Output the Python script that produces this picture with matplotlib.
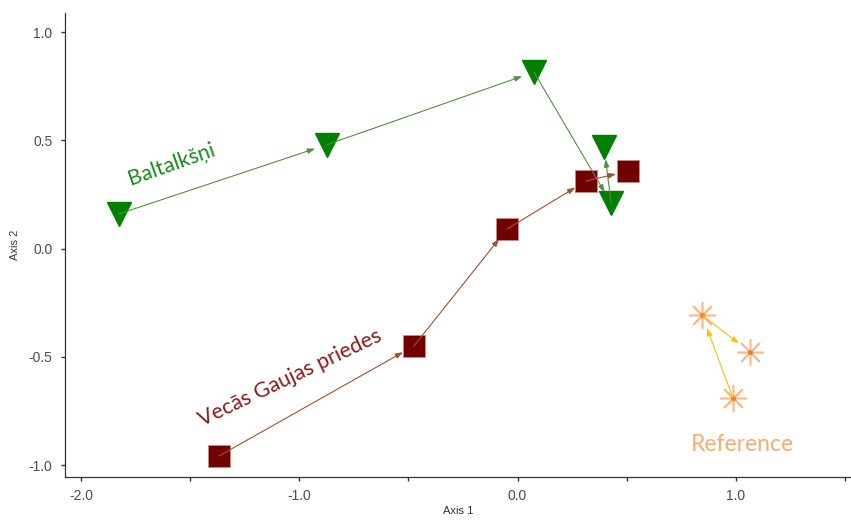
import matplotlib.pyplot as plt
from matplotlib import font_manager

# ordination scores, points listed in time order
birch_x = [-1.826, -0.873, 0.075, 0.428, 0.396]
birch_y = [0.16, 0.48, 0.815, 0.21, 0.47]

pine_x = [-1.368, -0.475, -0.049, 0.313, 0.506]
pine_y = [-0.958, -0.45, 0.09, 0.312, 0.358]

ref_x = [0.986, 0.845, 1.064]
ref_y = [-0.69, -0.307, -0.478]

x_ticks = [-2.0, -1.5, -1.0, -0.5, 0.0, 0.5, 1.0, 1.5]
x_labels = ['-2.0', '', '-1.0', '', '0.0', '', '1.0', '']
y_ticks = [-1.0, -0.5, 0.0, 0.5, 1.0]
y_labels = ['-1.0', '-0.5', '0.0', '0.5', '1.0']

names = {f.name for f in font_manager.fontManager.ttflist}
tick_font = 'Liberation Sans Narrow' if 'Liberation Sans Narrow' in names else 'Liberation Sans'
label_font = 'Lato'

fig = plt.figure(figsize=(8.51, 5.27), dpi=100)
ax = fig.add_axes([0.0764, 0.0949, 0.9236, 0.8804])


def draw_path(xs, ys, color, shrink):
    for i in range(len(xs) - 1):
        ax.annotate('', xy=(xs[i + 1], ys[i + 1]), xytext=(xs[i], ys[i]),
                    arrowprops=dict(arrowstyle='-|>,head_length=0.45,head_width=0.16',
                                    color=color, lw=0.8, shrinkA=0, shrinkB=shrink),
                    zorder=4)


ax.plot(birch_x, birch_y, 'v', ms=17, color='#008000', mec='#008000', ls='none', zorder=3)
ax.plot(pine_x, pine_y, 's', ms=16.5, color='#730000', mec='#c98a8a', mew=0.6, ls='none', zorder=3)
ax.plot(ref_x, ref_y, marker=(8, 2, 0), ms=19, color='#fab889', mew=1.1, ls='none', zorder=3)
ax.plot(ref_x, ref_y, 'o', ms=2.5, color='#ef7d1e', ls='none', zorder=3)

draw_path(birch_x, birch_y, '#568f3e', 9)
draw_path(pine_x, pine_y, '#a0522d', 9)
draw_path(ref_x, ref_y, '#ffc000', 10)

ax.text(-1.583, 0.39, 'Baltalkšņi', color='#1a8a1a', fontsize=15.5, family=label_font,
        rotation=19.5, ha='center', va='center', rotation_mode='anchor')
ax.text(-1.043, -0.598, 'Vecās Gaujas priedes', color='#8b1a1a', fontsize=15.5, family=label_font,
        rotation=25.5, ha='center', va='center', rotation_mode='anchor')
ax.text(1.028, -0.905, 'Reference', color='#f6ad72', fontsize=16.5, family=label_font,
        ha='center', va='center')

ax.set_xlim(-2.073, 1.527)
ax.set_ylim(-1.055, 1.088)
ax.set_xticks(x_ticks)
ax.set_xticklabels(x_labels)
ax.set_yticks(y_ticks)
ax.set_yticklabels(y_labels)
for lab in ax.get_xticklabels() + ax.get_yticklabels():
    lab.set_family(tick_font)
    lab.set_fontsize(10)
    lab.set_color('#4d4d4d')
ax.tick_params(direction='out', length=3, width=1, color='#333333', pad=6)

ax.set_xlabel('Axis 1', family=tick_font, fontsize=8, color='#333333', labelpad=2)
ax.set_ylabel('Axis 2', family=tick_font, fontsize=8, color='#333333', labelpad=6)

for side in ['top', 'right']:
    ax.spines[side].set_visible(False)
for side in ['left', 'bottom']:
    ax.spines[side].set_color('#333333')
    ax.spines[side].set_linewidth(0.9)

fig.savefig('out.png', dpi=100)
